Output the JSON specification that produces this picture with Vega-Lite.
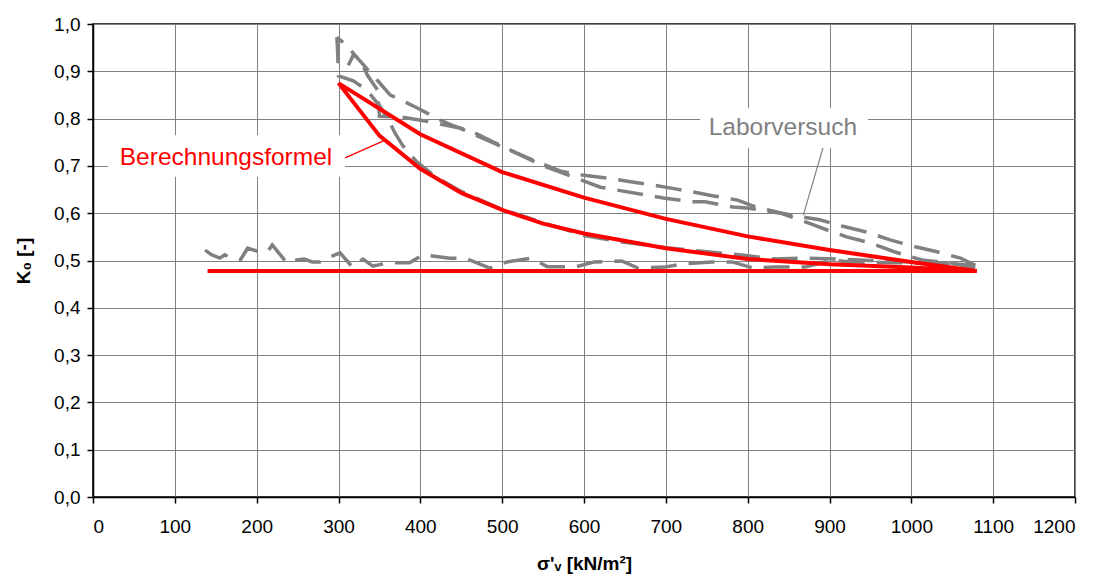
{
  "$schema": "https://vega.github.io/schema/vega-lite/v6.json",
  "autosize": {"type": "none"},
  "padding": {"left": 93, "top": 24, "right": 21, "bottom": 84},
  "width": 982,
  "height": 473,
  "config": {
    "font": "Liberation Sans",
    "view": {"stroke": "#000000", "strokeWidth": 1.5},
    "axis": {
      "gridColor": "#808080", "gridWidth": 1, "gridOpacity": 1,
      "domainColor": "#000000", "domainWidth": 1.5,
      "tickColor": "#000000", "tickWidth": 1.5, "tickSize": 6,
      "labelFont": "Liberation Sans", "labelFontSize": 19, "labelColor": "#000000",
      "titleFont": "Liberation Sans", "titleFontSize": 19, "titleFontWeight": "bold", "titleColor": "#000000"
    }
  },
  "datasets": {
    "lines": [
      {"series": "Formel", "ord": 1, "s": 140, "k": 0.478},
      {"series": "Formel", "ord": 2, "s": 1080, "k": 0.478},
      {"series": "Formel", "ord": 3, "s": 1000, "k": 0.497},
      {"series": "Formel", "ord": 4, "s": 900, "k": 0.522},
      {"series": "Formel", "ord": 5, "s": 800, "k": 0.551},
      {"series": "Formel", "ord": 6, "s": 700, "k": 0.588},
      {"series": "Formel", "ord": 7, "s": 600, "k": 0.633},
      {"series": "Formel", "ord": 8, "s": 500, "k": 0.687},
      {"series": "Formel", "ord": 9, "s": 400, "k": 0.767},
      {"series": "Formel", "ord": 10, "s": 300, "k": 0.875},
      {"series": "Formel", "ord": 11, "s": 350, "k": 0.764},
      {"series": "Formel", "ord": 12, "s": 400, "k": 0.694},
      {"series": "Formel", "ord": 13, "s": 450, "k": 0.643},
      {"series": "Formel", "ord": 14, "s": 500, "k": 0.607},
      {"series": "Formel", "ord": 15, "s": 550, "k": 0.578},
      {"series": "Formel", "ord": 16, "s": 600, "k": 0.557},
      {"series": "Formel", "ord": 17, "s": 700, "k": 0.526},
      {"series": "Formel", "ord": 18, "s": 800, "k": 0.503},
      {"series": "Formel", "ord": 19, "s": 900, "k": 0.492},
      {"series": "Formel", "ord": 20, "s": 1000, "k": 0.485},
      {"series": "Formel", "ord": 21, "s": 1080, "k": 0.478},

      {"series": "L", "ord": 1, "s": 137, "k": 0.522},
      {"series": "L", "ord": 2, "s": 145, "k": 0.512},
      {"series": "L", "ord": 3, "s": 155, "k": 0.505},
      {"series": "L", "ord": 4, "s": 161, "k": 0.512},
      {"series": "L", "ord": 5, "s": 170, "k": 0.504},
      {"series": "L", "ord": 6, "s": 180, "k": 0.501},
      {"series": "L", "ord": 7, "s": 189, "k": 0.526},
      {"series": "L", "ord": 8, "s": 200, "k": 0.520},
      {"series": "L", "ord": 9, "s": 213, "k": 0.518},
      {"series": "L", "ord": 10, "s": 219, "k": 0.533},
      {"series": "L", "ord": 11, "s": 228, "k": 0.514},
      {"series": "L", "ord": 12, "s": 237, "k": 0.495},
      {"series": "L", "ord": 13, "s": 249, "k": 0.501},
      {"series": "L", "ord": 14, "s": 258, "k": 0.503},
      {"series": "L", "ord": 15, "s": 268, "k": 0.497},
      {"series": "L", "ord": 16, "s": 277, "k": 0.497},
      {"series": "L", "ord": 17, "s": 290, "k": 0.508},
      {"series": "L", "ord": 18, "s": 302, "k": 0.516},
      {"series": "L", "ord": 19, "s": 317, "k": 0.486},
      {"series": "L", "ord": 20, "s": 330, "k": 0.503},
      {"series": "L", "ord": 21, "s": 342, "k": 0.488},
      {"series": "L", "ord": 22, "s": 360, "k": 0.495},
      {"series": "L", "ord": 23, "s": 387, "k": 0.495},
      {"series": "L", "ord": 24, "s": 403, "k": 0.512},
      {"series": "L", "ord": 25, "s": 436, "k": 0.505},
      {"series": "L", "ord": 26, "s": 455, "k": 0.505},
      {"series": "L", "ord": 27, "s": 485, "k": 0.484},
      {"series": "L", "ord": 28, "s": 506, "k": 0.497},
      {"series": "L", "ord": 29, "s": 536, "k": 0.505},
      {"series": "L", "ord": 30, "s": 555, "k": 0.487},
      {"series": "L", "ord": 31, "s": 591, "k": 0.487},
      {"series": "L", "ord": 32, "s": 613, "k": 0.497},
      {"series": "L", "ord": 33, "s": 646, "k": 0.499},
      {"series": "L", "ord": 34, "s": 666, "k": 0.484},
      {"series": "L", "ord": 35, "s": 699, "k": 0.486},
      {"series": "L", "ord": 36, "s": 721, "k": 0.493},
      {"series": "L", "ord": 37, "s": 756, "k": 0.497},
      {"series": "L", "ord": 38, "s": 781, "k": 0.497},
      {"series": "L", "ord": 39, "s": 807, "k": 0.484},
      {"series": "L", "ord": 40, "s": 833, "k": 0.486},
      {"series": "L", "ord": 41, "s": 870, "k": 0.486},
      {"series": "L", "ord": 42, "s": 904, "k": 0.501},
      {"series": "L", "ord": 43, "s": 925, "k": 0.497},
      {"series": "L", "ord": 44, "s": 960, "k": 0.496},
      {"series": "L", "ord": 45, "s": 1000, "k": 0.495},
      {"series": "L", "ord": 46, "s": 1040, "k": 0.494},
      {"series": "L", "ord": 47, "s": 1078, "k": 0.490},

      {"series": "U1", "ord": 1, "s": 1078, "k": 0.490},
      {"series": "U1", "ord": 2, "s": 1060, "k": 0.505},
      {"series": "U1", "ord": 3, "s": 1030, "k": 0.519},
      {"series": "U1", "ord": 4, "s": 1005, "k": 0.529},
      {"series": "U1", "ord": 5, "s": 975, "k": 0.543},
      {"series": "U1", "ord": 6, "s": 946, "k": 0.560},
      {"series": "U1", "ord": 7, "s": 915, "k": 0.573},
      {"series": "U1", "ord": 8, "s": 888, "k": 0.586},
      {"series": "U1", "ord": 9, "s": 860, "k": 0.594},
      {"series": "U1", "ord": 10, "s": 842, "k": 0.600},
      {"series": "U1", "ord": 11, "s": 810, "k": 0.613},
      {"series": "U1", "ord": 12, "s": 787, "k": 0.628},
      {"series": "U1", "ord": 13, "s": 760, "k": 0.636},
      {"series": "U1", "ord": 14, "s": 733, "k": 0.645},
      {"series": "U1", "ord": 15, "s": 710, "k": 0.652},
      {"series": "U1", "ord": 16, "s": 683, "k": 0.660},
      {"series": "U1", "ord": 17, "s": 655, "k": 0.667},
      {"series": "U1", "ord": 18, "s": 629, "k": 0.674},
      {"series": "U1", "ord": 19, "s": 600, "k": 0.680},
      {"series": "U1", "ord": 20, "s": 573, "k": 0.688},
      {"series": "U1", "ord": 21, "s": 545, "k": 0.707},
      {"series": "U1", "ord": 22, "s": 518, "k": 0.727},
      {"series": "U1", "ord": 23, "s": 490, "k": 0.750},
      {"series": "U1", "ord": 24, "s": 464, "k": 0.772},
      {"series": "U1", "ord": 25, "s": 440, "k": 0.785},
      {"series": "U1", "ord": 26, "s": 424, "k": 0.797},
      {"series": "U1", "ord": 27, "s": 397, "k": 0.822},
      {"series": "U1", "ord": 28, "s": 363, "k": 0.850},
      {"series": "U1", "ord": 29, "s": 348, "k": 0.880},
      {"series": "U1", "ord": 30, "s": 336, "k": 0.903},
      {"series": "U1", "ord": 31, "s": 320, "k": 0.934},
      {"series": "U1", "ord": 32, "s": 310, "k": 0.955},
      {"series": "U1", "ord": 33, "s": 298, "k": 0.972},

      {"series": "R", "ord": 1, "s": 298, "k": 0.972},
      {"series": "R", "ord": 2, "s": 299, "k": 0.940},
      {"series": "R", "ord": 3, "s": 300, "k": 0.890},
      {"series": "R", "ord": 4, "s": 318, "k": 0.880},
      {"series": "R", "ord": 5, "s": 335, "k": 0.860},
      {"series": "R", "ord": 6, "s": 351, "k": 0.825},
      {"series": "R", "ord": 7, "s": 360, "k": 0.800},
      {"series": "R", "ord": 8, "s": 369, "k": 0.770},
      {"series": "R", "ord": 9, "s": 378, "k": 0.744},
      {"series": "R", "ord": 10, "s": 396, "k": 0.708},
      {"series": "R", "ord": 11, "s": 420, "k": 0.675},
      {"series": "R", "ord": 12, "s": 450, "k": 0.646},
      {"series": "R", "ord": 13, "s": 500, "k": 0.608},
      {"series": "R", "ord": 14, "s": 550, "k": 0.580},
      {"series": "R", "ord": 15, "s": 600, "k": 0.553},
      {"series": "R", "ord": 16, "s": 640, "k": 0.541},
      {"series": "R", "ord": 17, "s": 700, "k": 0.527},
      {"series": "R", "ord": 18, "s": 754, "k": 0.518},
      {"series": "R", "ord": 19, "s": 790, "k": 0.512},
      {"series": "R", "ord": 20, "s": 833, "k": 0.503},
      {"series": "R", "ord": 21, "s": 870, "k": 0.505},
      {"series": "R", "ord": 22, "s": 910, "k": 0.503},
      {"series": "R", "ord": 23, "s": 950, "k": 0.500},
      {"series": "R", "ord": 24, "s": 1000, "k": 0.497},
      {"series": "R", "ord": 25, "s": 1078, "k": 0.490},

      {"series": "U2", "ord": 1, "s": 1078, "k": 0.484},
      {"series": "U2", "ord": 2, "s": 1047, "k": 0.495},
      {"series": "U2", "ord": 3, "s": 1013, "k": 0.501},
      {"series": "U2", "ord": 4, "s": 980, "k": 0.518},
      {"series": "U2", "ord": 5, "s": 950, "k": 0.537},
      {"series": "U2", "ord": 6, "s": 921, "k": 0.550},
      {"series": "U2", "ord": 7, "s": 898, "k": 0.564},
      {"series": "U2", "ord": 8, "s": 864, "k": 0.586},
      {"series": "U2", "ord": 9, "s": 840, "k": 0.600},
      {"series": "U2", "ord": 10, "s": 799, "k": 0.611},
      {"series": "U2", "ord": 11, "s": 782, "k": 0.613},
      {"series": "U2", "ord": 12, "s": 748, "k": 0.624},
      {"series": "U2", "ord": 13, "s": 732, "k": 0.624},
      {"series": "U2", "ord": 14, "s": 697, "k": 0.632},
      {"series": "U2", "ord": 15, "s": 677, "k": 0.638},
      {"series": "U2", "ord": 16, "s": 640, "k": 0.649},
      {"series": "U2", "ord": 17, "s": 620, "k": 0.655},
      {"series": "U2", "ord": 18, "s": 583, "k": 0.679},
      {"series": "U2", "ord": 19, "s": 550, "k": 0.700},
      {"series": "U2", "ord": 20, "s": 520, "k": 0.725},
      {"series": "U2", "ord": 21, "s": 490, "k": 0.748},
      {"series": "U2", "ord": 22, "s": 448, "k": 0.780},
      {"series": "U2", "ord": 23, "s": 412, "k": 0.793},
      {"series": "U2", "ord": 24, "s": 378, "k": 0.803},
      {"series": "U2", "ord": 25, "s": 350, "k": 0.805},
      {"series": "U2", "ord": 26, "s": 348, "k": 0.860},
      {"series": "U2", "ord": 27, "s": 336, "k": 0.890},
      {"series": "U2", "ord": 28, "s": 325, "k": 0.928},
      {"series": "U2", "ord": 29, "s": 318, "k": 0.934},
      {"series": "U2", "ord": 30, "s": 312, "k": 0.913}
    ],
    "notes": [
      {"label": "Berechnungsformel"},
      {"label": "Laborversuch"}
    ]
  },
  "layer": [
    {
      "data": {"name": "lines"},
      "transform": [{"filter": "datum.series != 'Formel'"}],
      "mark": {"type": "line", "color": "#808080", "strokeWidth": 3.5, "strokeDash": [26, 12], "strokeCap": "butt"},
      "encoding": {
        "x": {
          "field": "s", "type": "quantitative",
          "scale": {"domain": [0, 1200], "nice": false, "zero": false},
          "axis": {"values": [0,100,200,300,400,500,600,700,800,900,1000,1100,1200], "format": "d", "labelPadding": 14, "title": "σ'ᵥ [kN/m²]", "titlePadding": 18}
        },
        "y": {
          "field": "k", "type": "quantitative",
          "scale": {"domain": [0, 1], "nice": false},
          "axis": {"values": [0,0.1,0.2,0.3,0.4,0.5,0.6,0.7,0.8,0.9,1.0], "labelExpr": "replace(format(datum.value, '.1f'), '.', ',')", "labelPadding": 7, "title": "K₀ [-]", "titlePadding": 20}
        },
        "detail": {"field": "series"},
        "order": {"field": "ord", "type": "quantitative"}
      }
    },
    {
      "data": {"name": "notes"},
      "transform": [{"filter": "datum.label == 'Berechnungsformel'"}],
      "mark": {"type": "rect", "fill": "#ffffff"},
      "encoding": {
        "x": {"datum": 18, "type": "quantitative"},
        "x2": {"datum": 308},
        "y": {"datum": 0.677, "type": "quantitative"},
        "y2": {"datum": 0.765}
      }
    },
    {
      "data": {"name": "notes"},
      "transform": [{"filter": "datum.label == 'Laborversuch'"}],
      "mark": {"type": "rect", "fill": "#ffffff"},
      "encoding": {
        "x": {"datum": 742, "type": "quantitative"},
        "x2": {"datum": 947},
        "y": {"datum": 0.738, "type": "quantitative"},
        "y2": {"datum": 0.822}
      }
    },
    {
      "data": {"name": "lines"},
      "transform": [{"filter": "datum.series == 'Formel'"}],
      "mark": {"type": "line", "color": "#ff0000", "strokeWidth": 4},
      "encoding": {
        "x": {"field": "s", "type": "quantitative"},
        "y": {"field": "k", "type": "quantitative"},
        "order": {"field": "ord", "type": "quantitative"}
      }
    },
    {
      "data": {"name": "notes"},
      "transform": [{"filter": "datum.label == 'Berechnungsformel'"}],
      "mark": {"type": "rule", "color": "#ff0000", "strokeWidth": 1.2},
      "encoding": {
        "x": {"datum": 308, "type": "quantitative"},
        "y": {"datum": 0.717, "type": "quantitative"},
        "x2": {"datum": 355},
        "y2": {"datum": 0.753}
      }
    },
    {
      "data": {"name": "notes"},
      "transform": [{"filter": "datum.label == 'Laborversuch'"}],
      "mark": {"type": "rule", "color": "#808080", "strokeWidth": 1.2},
      "encoding": {
        "x": {"datum": 892, "type": "quantitative"},
        "y": {"datum": 0.738, "type": "quantitative"},
        "x2": {"datum": 868},
        "y2": {"datum": 0.596}
      }
    },
    {
      "data": {"name": "notes"},
      "transform": [{"filter": "datum.label == 'Berechnungsformel'"}],
      "mark": {"type": "text", "color": "#ff0000", "fontSize": 24.5, "font": "Liberation Sans", "align": "center", "baseline": "middle"},
      "encoding": {
        "text": {"field": "label"},
        "x": {"datum": 162.5, "type": "quantitative"},
        "y": {"datum": 0.717, "type": "quantitative"}
      }
    },
    {
      "data": {"name": "notes"},
      "transform": [{"filter": "datum.label == 'Laborversuch'"}],
      "mark": {"type": "text", "color": "#808080", "fontSize": 24.5, "font": "Liberation Sans", "align": "center", "baseline": "middle"},
      "encoding": {
        "text": {"field": "label"},
        "x": {"datum": 843, "type": "quantitative"},
        "y": {"datum": 0.780, "type": "quantitative"}
      }
    }
  ]
}
